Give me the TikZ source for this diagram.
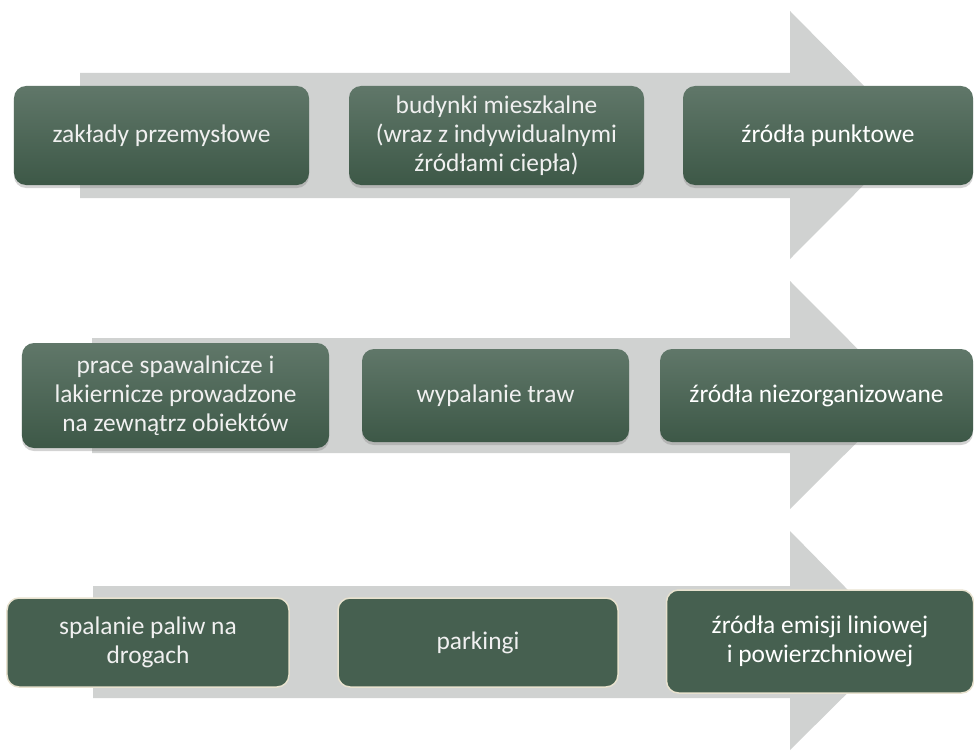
\documentclass[tikz,border=0pt]{standalone}
\usepackage{fontspec}
\setmainfont{Carlito}
\usepackage{tikz}
\usetikzlibrary{shadows}
\definecolor{arrowgray}{RGB}{208,210,209}
\definecolor{boxtop}{RGB}{96,119,105}
\definecolor{boxbottom}{RGB}{61,88,71}
\definecolor{boxflat}{RGB}{70,96,80}
\definecolor{boxrim}{RGB}{232,226,207}

\begin{document}
\begin{tikzpicture}[x=1bp,y=-1bp,
		box/.style={rectangle, rounded corners=12bp, align=center, text=gray!12,
			font=\fontsize{25.5}{29}\selectfont, inner sep=0pt},
		shadedbox/.style={box, top color=boxtop, bottom color=boxbottom,
			drop shadow={opacity=0.35, shadow xshift=0bp, shadow yshift=-3bp}},
		flatbox/.style={box, fill=boxflat, draw=boxrim, line width=1.5bp},
		mainbox/.style={text=white}]
		\useasboundingbox (0,0) rectangle (974,751);
		
		% gray arrows
		\fill[arrowgray] (80,73)--(790,73)--(790,11)--(913,135.5)--(790,259)--(790,198)--(80,198)--cycle;
		\fill[arrowgray] (92,338)--(790,338)--(790,281)--(904,395.5)--(790,509)--(790,453)--(92,453)--cycle;
		\fill[arrowgray] (93,586)--(790,586)--(790,531)--(899,642)--(790,750)--(790,698)--(93,698)--cycle;
		
		% row 1
		\node[shadedbox, minimum width=295bp, minimum height=99bp] (zaklady) at (161.5,135.5) {zakłady przemysłowe};
		\node[shadedbox, minimum width=295bp, minimum height=99bp] (budynki) at (496.5,135.5) {budynki mieszkalne\\(wraz z indywidualnymi\\źródłami ciepła)};
		\node[shadedbox, mainbox, minimum width=290bp, minimum height=99bp] (punktowe) at (828,135.5) {źródła punktowe};
		
		% row 2
		\node[shadedbox, minimum width=307bp, minimum height=105bp] (prace) at (175.5,395.5) {prace spawalnicze i\\lakiernicze prowadzone\\na zewnątrz obiektów};
		\node[shadedbox, minimum width=267bp, minimum height=93bp] (traw) at (495.5,395.5) {wypalanie traw};
		\node[shadedbox, mainbox, minimum width=313bp, minimum height=93bp] (niezorg) at (816.5,395.5) {źródła niezorganizowane};
		
		% row 3
		\node[flatbox, minimum width=282bp, minimum height=89bp] (paliwa) at (148,642.5) {spalanie paliw na\\drogach};
		\node[flatbox, minimum width=280bp, minimum height=89bp] (parkingi) at (478,642.5) {parkingi};
		\node[flatbox, mainbox, minimum width=307bp, minimum height=103bp] (liniowe) at (820,641.5) {źródła emisji liniowej\\i powierzchniowej};
	\end{tikzpicture}
\end{document}
